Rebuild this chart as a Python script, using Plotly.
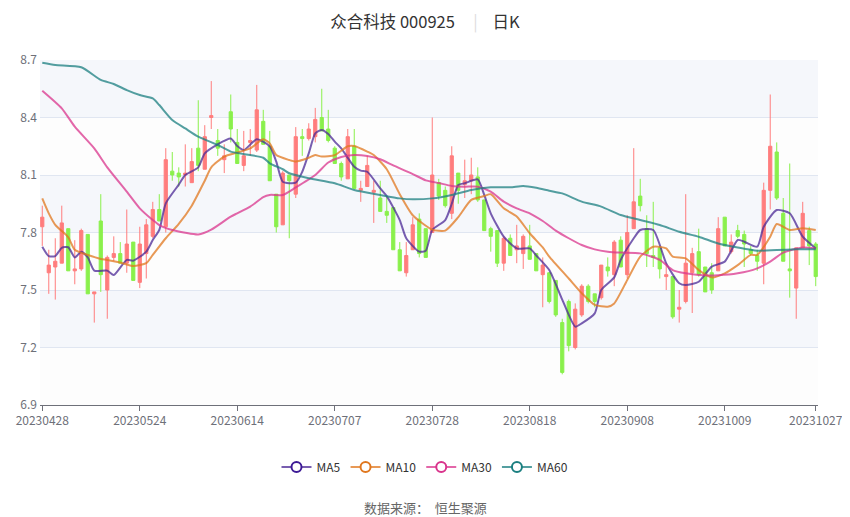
import plotly.graph_objects as go

# trading days (month -> days)
trade_days = {
    '202304': [28],
    '202305': [4, 5, 8, 9, 10, 11, 12, 15, 16, 17, 18, 19, 22, 23, 24, 25, 26, 29, 30, 31],
    '202306': [1, 2, 5, 6, 7, 8, 9, 12, 13, 14, 15, 16, 19, 20, 21, 26, 27, 28, 29, 30],
    '202307': [3, 4, 5, 6, 7, 10, 11, 12, 13, 14, 17, 18, 19, 20, 21, 24, 25, 26, 27, 28, 31],
    '202308': [1, 2, 3, 4, 7, 8, 9, 10, 11, 14, 15, 16, 17, 18, 21, 22, 23, 24, 25, 28, 29, 30, 31],
    '202309': [1, 4, 5, 6, 7, 8, 11, 12, 13, 14, 15, 18, 19, 20, 21, 22, 25, 26, 27, 28],
    '202310': [9, 10, 11, 12, 13, 16, 17, 18, 19, 20, 23, 24, 25, 26, 27],
}
dates = [m + '%02d' % d for m, days in trade_days.items() for d in days]

tick_labels = ['20230428', '20230524', '20230614', '20230707', '20230728',
               '20230818', '20230908', '20231009', '20231027']

opens = [7.83, 7.59, 7.62, 7.64, 7.82, 7.60, 7.61, 7.79, 7.48, 7.86,
         7.50, 7.67, 7.69, 7.64, 7.75, 7.54, 7.69, 7.78, 7.92, 7.83,
         8.12, 8.11, 8.10, 8.06, 8.24, 8.13, 8.40, 8.28, 8.18, 8.43,
         8.27, 8.15, 8.27, 8.23, 8.38, 8.25, 8.00, 7.84, 8.10, 8.00,
         8.30, 8.29, 8.30, 8.40, 8.34, 8.24, 8.16, 8.08, 8.25, 8.02,
         8.04, 8.01, 7.98, 7.91, 7.93, 7.71, 7.59, 7.71, 7.87, 7.82,
         7.80, 8.06, 8.02, 7.90, 8.11, 8.05, 8.07, 8.09, 7.97, 7.82,
         7.81, 7.64, 7.77, 7.71, 7.69, 7.73, 7.69, 7.58, 7.59, 7.55,
         7.33, 7.44, 7.20, 7.37, 7.52, 7.48, 7.46, 7.62, 7.58, 7.76,
         7.58, 7.82, 7.99, 7.82, 7.68, 7.72, 7.57, 7.57, 7.40, 7.44,
         7.59, 7.70, 7.62, 7.59, 7.60, 7.88, 7.70, 7.81, 7.79, 7.71,
         7.68, 7.64, 8.02, 8.22, 7.90, 7.61, 7.51, 7.72, 7.81, 7.74]
highs = [7.94, 7.71, 7.77, 7.94, 7.82, 7.76, 7.82, 7.79, 7.49, 8.00,
         7.68, 7.78, 7.75, 7.92, 7.75, 7.83, 7.87, 7.96, 8.00, 8.24,
         8.22, 8.14, 8.26, 8.24, 8.49, 8.36, 8.59, 8.34, 8.26, 8.52,
         8.34, 8.33, 8.34, 8.57, 8.44, 8.33, 8.00, 8.12, 8.10, 8.35,
         8.34, 8.37, 8.45, 8.55, 8.44, 8.25, 8.17, 8.34, 8.34, 8.07,
         8.20, 8.07, 8.07, 7.99, 7.93, 7.75, 7.75, 7.88, 7.90, 7.82,
         8.40, 8.08, 8.04, 8.25, 8.11, 8.18, 8.19, 8.14, 7.97, 7.83,
         7.81, 7.78, 7.79, 7.84, 7.79, 7.84, 7.69, 7.67, 7.59, 7.55,
         7.35, 7.45, 7.43, 7.53, 7.53, 7.48, 7.63, 7.67, 7.76, 7.78,
         7.89, 8.24, 8.08, 7.89, 7.96, 7.73, 7.64, 7.57, 7.50, 8.00,
         7.72, 7.82, 7.62, 7.64, 7.88, 7.88, 7.79, 7.84, 7.81, 7.73,
         7.71, 8.06, 8.52, 8.27, 7.98, 8.16, 7.72, 7.96, 7.83, 7.75]
lows = [7.73, 7.48, 7.45, 7.64, 7.60, 7.53, 7.60, 7.48, 7.33, 7.49,
        7.35, 7.65, 7.64, 7.59, 7.55, 7.51, 7.56, 7.77, 7.86, 7.80,
        8.07, 8.04, 8.04, 8.06, 8.12, 8.13, 8.34, 8.20, 8.11, 8.27,
        8.16, 8.12, 8.20, 8.22, 8.26, 8.07, 7.80, 7.84, 7.77, 7.98,
        8.20, 8.28, 8.27, 8.33, 8.27, 8.16, 8.07, 8.08, 8.03, 7.96,
        8.04, 7.85, 7.91, 7.85, 7.71, 7.60, 7.57, 7.71, 7.67, 7.67,
        7.80, 7.97, 7.93, 7.87, 7.95, 7.98, 8.00, 7.96, 7.81, 7.70,
        7.62, 7.60, 7.68, 7.64, 7.61, 7.66, 7.60, 7.41, 7.43, 7.36,
        7.06, 7.18, 7.19, 7.36, 7.43, 7.41, 7.45, 7.57, 7.52, 7.62,
        7.56, 7.82, 7.91, 7.62, 7.62, 7.56, 7.50, 7.35, 7.33, 7.43,
        7.38, 7.57, 7.49, 7.48, 7.60, 7.73, 7.69, 7.77, 7.62, 7.68,
        7.60, 7.53, 7.92, 7.97, 7.65, 7.46, 7.35, 7.72, 7.63, 7.52]
closes = [7.88, 7.63, 7.65, 7.85, 7.60, 7.61, 7.81, 7.48, 7.49, 7.58,
          7.67, 7.69, 7.64, 7.74, 7.55, 7.74, 7.84, 7.92, 7.86, 8.18,
          8.10, 8.09, 8.11, 8.17, 8.15, 8.30, 8.41, 8.24, 8.20, 8.34,
          8.16, 8.20, 8.28, 8.44, 8.26, 8.07, 7.83, 8.11, 8.07, 8.30,
          8.29, 8.34, 8.39, 8.33, 8.28, 8.16, 8.09, 8.30, 8.03, 8.03,
          8.15, 8.02, 7.91, 7.89, 7.71, 7.60, 7.68, 7.84, 7.69, 7.67,
          8.10, 7.99, 7.94, 8.20, 8.02, 8.07, 8.10, 7.97, 7.81, 7.78,
          7.64, 7.77, 7.68, 7.73, 7.78, 7.66, 7.60, 7.63, 7.44, 7.37,
          7.07, 7.21, 7.40, 7.52, 7.44, 7.44, 7.63, 7.60, 7.75, 7.62,
          7.80, 7.96, 7.94, 7.69, 7.67, 7.61, 7.58, 7.36, 7.41, 7.64,
          7.69, 7.58, 7.49, 7.50, 7.82, 7.73, 7.75, 7.78, 7.74, 7.69,
          7.65, 8.02, 8.25, 7.98, 7.65, 7.60, 7.72, 7.90, 7.73, 7.57]

# moving averages, read at selected trading days (index into dates)
ma5_idx = [0, 1, 2, 3, 4, 5, 6, 7, 8, 10, 11, 13, 14, 16, 17, 18, 19, 21, 22, 24,
           25, 27, 29, 30, 31, 33, 35, 36, 37, 39, 40, 41, 42, 43, 44, 45, 46, 48, 49, 50,
           52, 53, 55, 56, 58, 59, 60, 62, 63, 64, 65, 67, 68, 69, 71, 73, 75, 76, 78, 80,
           82, 83, 85, 86, 88, 89, 91, 92, 94, 96, 98, 99, 101, 103, 105, 107, 108, 110, 111, 113,
           115, 117, 119]
ma5 = [7.726, 7.677, 7.677, 7.72, 7.723, 7.67, 7.70, 7.67, 7.601, 7.601, 7.578, 7.657, 7.653, 7.70, 7.761, 7.813, 7.952, 8.05, 8.10, 8.14,
       8.213, 8.26, 8.29, 8.251, 8.23, 8.286, 8.25, 8.17, 8.065, 8.06, 8.117, 8.213, 8.317, 8.335, 8.314, 8.274, 8.239, 8.143, 8.123, 8.117,
       8.03, 7.99, 7.865, 7.77, 7.70, 7.705, 7.813, 7.865, 7.95, 8.048, 8.057, 8.077, 7.996, 7.90, 7.778, 7.717, 7.717, 7.68, 7.604, 7.45,
       7.309, 7.326, 7.378, 7.50, 7.566, 7.657, 7.77, 7.813, 7.813, 7.639, 7.535, 7.526, 7.543, 7.622, 7.648, 7.761, 7.752, 7.726, 7.83, 7.917,
       7.90, 7.778, 7.717]

ma10_idx = [0, 1, 2, 4, 5, 7, 9, 10, 12, 14, 16, 17, 19, 21, 23, 25, 26, 28, 30, 32,
            34, 35, 36, 38, 39, 41, 42, 43, 45, 47, 48, 50, 51, 53, 55, 57, 60, 62, 64, 66,
            68, 69, 71, 73, 75, 77, 78, 81, 83, 85, 87, 88, 90, 92, 94, 96, 97, 99, 101, 103,
            105, 107, 109, 110, 112, 113, 115, 117, 119]
ma10 = [7.978, 7.90, 7.84, 7.775, 7.71, 7.683, 7.662, 7.657, 7.643, 7.625, 7.64, 7.683, 7.77, 7.845, 7.94, 8.07, 8.14, 8.196, 8.217, 8.239,
        8.286, 8.265, 8.204, 8.178, 8.17, 8.19, 8.204, 8.196, 8.204, 8.25, 8.251, 8.222, 8.204, 8.13, 8.00, 7.89, 7.815, 7.81, 7.88, 7.97,
        7.99, 8.00, 7.926, 7.883, 7.796, 7.722, 7.674, 7.56, 7.483, 7.422, 7.413, 7.43, 7.552, 7.674, 7.726, 7.717, 7.674, 7.665, 7.604, 7.566,
        7.587, 7.63, 7.683, 7.683, 7.778, 7.844, 7.813, 7.822, 7.813]

ma30_idx = [0, 3, 5, 8, 10, 13, 15, 17, 18, 20, 22, 24, 26, 29, 30, 32, 34, 35, 37, 39,
            42, 44, 46, 48, 50, 52, 54, 57, 59, 61, 63, 65, 67, 69, 71, 73, 75, 77, 79, 81,
            83, 85, 87, 89, 92, 95, 97, 99, 101, 104, 107, 110, 112, 114, 117, 119]
ma30 = [8.54, 8.448, 8.352, 8.239, 8.14, 8.013, 7.926, 7.865, 7.839, 7.813, 7.799, 7.79, 7.815, 7.883, 7.90, 7.935, 7.985, 7.996, 7.996, 8.035,
        8.10, 8.165, 8.194, 8.204, 8.199, 8.182, 8.15, 8.105, 8.072, 8.058, 8.043, 8.039, 8.039, 8.013, 7.961, 7.926, 7.90, 7.86, 7.81, 7.77,
        7.735, 7.712, 7.70, 7.695, 7.691, 7.657, 7.604, 7.587, 7.578, 7.577, 7.587, 7.613, 7.648, 7.695, 7.722, 7.717]

ma60_idx = [0, 2, 6, 9, 11, 13, 15, 17, 18, 20, 22, 24, 27, 29, 32, 34, 35, 37, 38, 41,
            45, 48, 52, 55, 57, 60, 63, 66, 69, 72, 74, 76, 78, 80, 83, 86, 89, 92, 95, 98,
            101, 104, 107, 110, 113, 116, 119]
ma60 = [8.686, 8.674, 8.662, 8.596, 8.575, 8.543, 8.517, 8.50, 8.465, 8.387, 8.343, 8.30, 8.257, 8.222, 8.204, 8.19, 8.161, 8.13, 8.109, 8.083,
        8.057, 8.022, 7.996, 7.978, 7.973, 7.978, 7.996, 8.022, 8.036, 8.036, 8.043, 8.033, 8.018, 8.004, 7.961, 7.935, 7.891, 7.865, 7.839, 7.804,
        7.778, 7.743, 7.722, 7.705, 7.709, 7.712, 7.712]

y_ticks = [6.9, 7.2, 7.5, 7.8, 8.1, 8.4, 8.7]

ma_series = [
    ('MA5', ma5_idx, ma5, '#3d1a96', 'rgba(75,40,150,0.75)'),
    ('MA10', ma10_idx, ma10, '#e0771e', 'rgba(224,119,30,0.75)'),
    ('MA30', ma30_idx, ma30, '#d9348c', 'rgba(217,52,140,0.75)'),
    ('MA60', ma60_idx, ma60, '#1b7f80', 'rgba(27,127,128,0.75)'),
]

font_cn = 'Noto Sans CJK SC, Microsoft YaHei, sans-serif'

# the page body adds an 8px offset, so the figure is a little smaller
W, H = 842, 509

fig = go.Figure()

fig.add_trace(go.Candlestick(
    x=dates, open=opens, high=highs, low=lows, close=closes,
    increasing=dict(line=dict(color='#ff7d7d', width=1), fillcolor='#ff7d7d'),
    decreasing=dict(line=dict(color='#8af04c', width=1), fillcolor='#8af04c'),
    whiskerwidth=0, showlegend=False, name='日K'))

for name, idx, vals, mcol, lcol in ma_series:
    fig.add_trace(go.Scatter(
        x=[dates[i] for i in idx], y=vals, mode='lines', name=name,
        line=dict(color=lcol, width=2, shape='spline', smoothing=0.6),
        showlegend=False, legendgroup=name))
    # legend entry only
    fig.add_trace(go.Scatter(
        x=[None], y=[None], mode='lines+markers', name=name, legendgroup=name,
        line=dict(color=lcol, width=2),
        marker=dict(symbol='circle', size=10, color='white', line=dict(color=mcol, width=2))))

# alternating split areas
shapes = []
for k in range(len(y_ticks) - 1):
    shapes.append(dict(type='rect', xref='paper', yref='y', x0=0, x1=1,
                       y0=y_ticks[k], y1=y_ticks[k + 1], layer='below', line_width=0,
                       fillcolor='#fdfdfd' if k % 2 == 0 else '#f5f7fb'))

sep = '&nbsp;' * 5 + '<span style="color:#dddddd">|</span>' + '&nbsp;' * 4

fig.update_layout(
    width=W, height=H,
    margin=dict(l=32, r=32, t=52, b=112),
    paper_bgcolor='white', plot_bgcolor='white',
    font=dict(family=font_cn, size=12, color='#6e7079'),
    title=dict(text='众合科技 000925' + sep + '日K',
               x=417 / W, xref='container', xanchor='center', y=1 - 14 / H, yanchor='middle',
               font=dict(family=font_cn, size=16.5, color='#333333')),
    shapes=shapes,
    legend=dict(orientation='h', xref='container', yref='container', x=417 / W, xanchor='center',
                y=1 - 459 / H, yanchor='middle', font=dict(size=12, color='#333333'),
                itemwidth=30),
    xaxis=dict(type='category', rangeslider=dict(visible=False), range=[-0.35, 119.35],
               tickvals=tick_labels, ticktext=tick_labels, showgrid=False, automargin=False,
               showline=True, linecolor='#6e7079', ticks='outside', ticklen=5,
               tickcolor='#6e7079', tickfont=dict(size=12, color='#6e7079')),
    yaxis=dict(range=[6.9, 8.7], tickvals=y_ticks, ticktext=[str(v) for v in y_ticks],
               showgrid=True, gridcolor='#e0e6f1', zeroline=False, automargin=False,
               ticklabelstandoff=2, tickfont=dict(size=12, color='#6e7079')),
    hovermode='x',
)

fig.add_annotation(text='数据来源：  恒生聚源', xref='paper', yref='paper',
                   x=(417 - 32) / 778, y=(397 - 500) / 345, xanchor='center', yanchor='middle',
                   showarrow=False, font=dict(family=font_cn, size=13, color='#666666'))

fig.write_html('out.html')
